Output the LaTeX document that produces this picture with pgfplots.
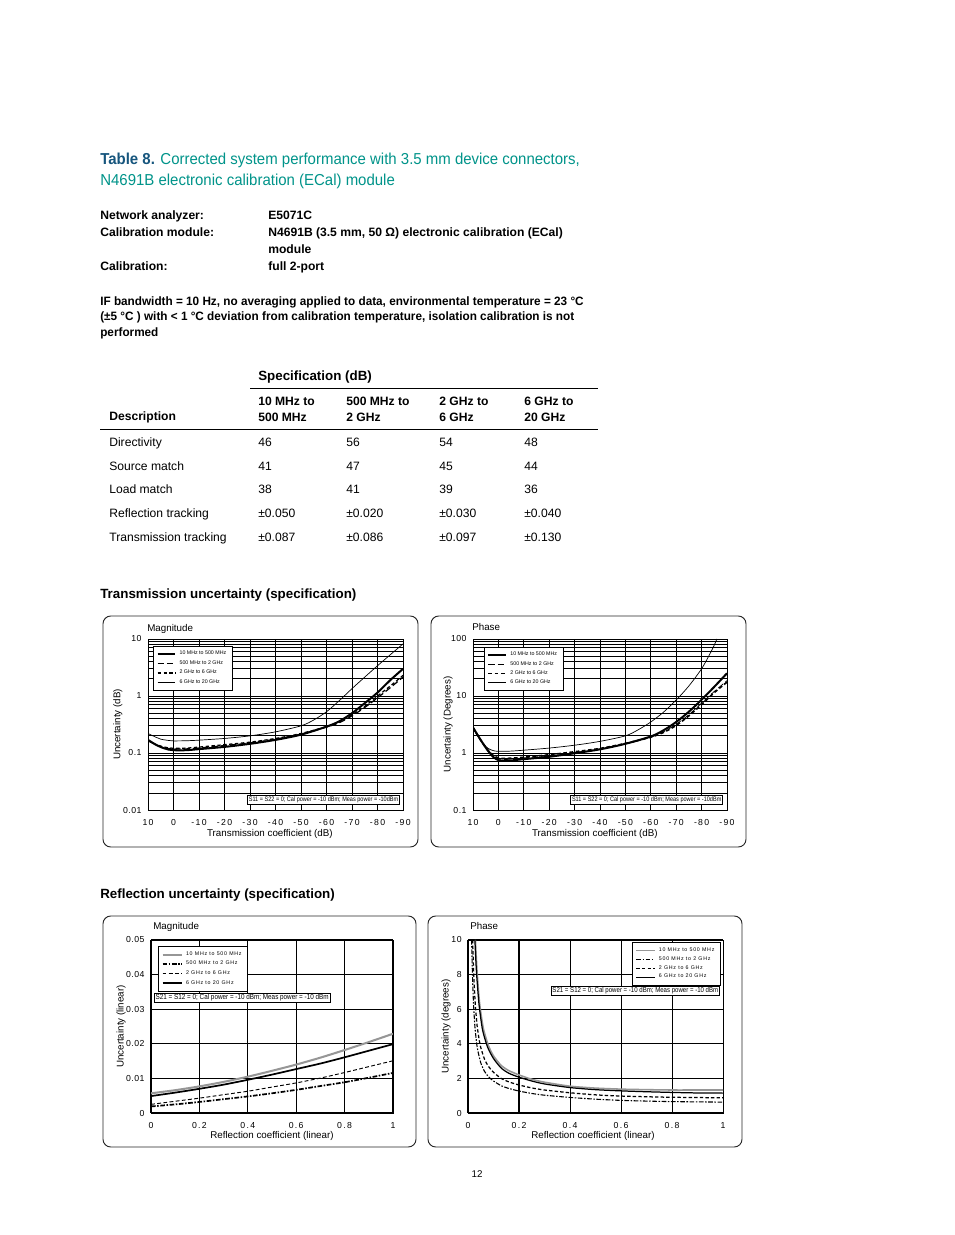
\documentclass[border=0pt]{standalone}
\usepackage{fontspec}
\setmainfont{Liberation Sans}
\newfontfamily\cond[FakeStretch=0.85]{Liberation Sans}
\newfontfamily\body[FakeStretch=0.97]{Liberation Sans}
\newfontfamily\titf[FakeStretch=0.945]{Liberation Sans}
\newfontfamily\tickf[LetterSpace=15]{Liberation Sans}
\newfontfamily\tickyf[LetterSpace=6]{Liberation Sans}
\newfontfamily\legf[LetterSpace=14]{Liberation Sans}
\usepackage{pgfplots}
\pgfplotsset{compat=1.18}
\definecolor{tblue}{RGB}{22,85,125}
\definecolor{tteal}{RGB}{0,148,138}
\definecolor{lgray}{RGB}{150,150,150}
\tikzset{
  annot/.style={draw=black, line width=0.5pt, fill=white, inner sep=0.9pt,
     font=\cond\fontsize{4.2}{5}\selectfont},
  ctitle/.style={anchor=base west, inner sep=0pt, font=\fontsize{6.3}{7}\selectfont},
}
\pgfplotsset{
  pageax/.style={
    scale only axis, anchor=south west,
    axis line style={black,line width=0.6pt},
    grid style={black,line width=0.45pt},
    tick style={draw=none},
    xticklabel style={font=\tickf\fontsize{5.6}{6}\selectfont, yshift=-2.5bp},
    yticklabel style={font=\tickyf\fontsize{5.6}{6}\selectfont, xshift=-0.6bp},
    label style={font=\fontsize{6.3}{7}\selectfont},
    scaled ticks=false,
    legend cell align=left,
    legend style={draw=black, line width=0.5pt, fill=white,
      font=\fontsize{3.4}{4}\selectfont, inner xsep=2pt, inner ysep=1.1pt, row sep=-1.8pt},
    legend image code/.code={\draw[##1] (0pt,0pt) -- (11.5pt,0pt);},
  },
}
\begin{document}
\begin{tikzpicture}[x=0.6414bp,y=-0.6414bp]
\fill[white] (0,0) rectangle (954,1235);
% ---------------- header text
\node[anchor=base west,inner sep=0pt,font=\titf\fontsize{10.2}{12}\selectfont] at (100,164)
  {\textcolor{tblue}{\bfseries Table 8.} \textcolor{tteal}{Corrected system performance with 3.5 mm device connectors,}};
\node[anchor=base west,inner sep=0pt,font=\titf\fontsize{10.2}{12}\selectfont,text=tteal] at (100,185)
  {N4691B electronic calibration (ECal) module};
\begin{scope}[every node/.style={anchor=base west,inner sep=0pt,font=\bfseries\fontsize{7.8}{9}\selectfont}]
\node at (100,219.3) {Network analyzer:};
\node at (268,219.3) {E5071C};
\node at (100,236.7) {Calibration module:};
\node at (268,236.7) {N4691B (3.5 mm, 50 \symbol{"03A9}) electronic calibration (ECal)};
\node at (268,253.3) {module};
\node at (100,270.7) {Calibration:};
\node at (268,270.7) {full 2-port};
\end{scope}
\begin{scope}[every node/.style={anchor=base west,inner sep=0pt,font=\body\bfseries\fontsize{7.8}{9}\selectfont}]
\node at (100,305) {IF bandwidth = 10 Hz, no averaging applied to data, environmental temperature = 23 \textdegree C};
\node at (100,320.5) {(\textpm5 \textdegree C ) with < 1 \textdegree C deviation from calibration temperature, isolation calibration is not};
\node at (100,336.5) {performed};
\end{scope}
% ---------------- table
\node[anchor=base west,inner sep=0pt,font=\bfseries\fontsize{8.6}{10}\selectfont] at (258,380.7) {Specification (dB)};
\draw[line width=0.55pt] (250,388.3) -- (598,388.3);
\begin{scope}[every node/.style={anchor=base west,inner sep=0pt,font=\bfseries\fontsize{7.8}{9}\selectfont}]
\node at (109,420) {Description};
\node at (258,405.5) {10 MHz to}; \node at (258,421.5) {500 MHz};
\node at (346,405.5) {500 MHz to}; \node at (346,421.5) {2 GHz};
\node at (439,405.5) {2 GHz to}; \node at (439,421.5) {6 GHz};
\node at (524,405.5) {6 GHz to}; \node at (524,421.5) {20 GHz};
\end{scope}
\draw[line width=0.8pt] (100,429.3) -- (598,429.3);
\begin{scope}[every node/.style={anchor=base west,inner sep=0pt,font=\fontsize{7.8}{9}\selectfont}]
\node at (109,446) {Directivity};   \node at (258,446) {46}; \node at (346,446) {56}; \node at (439,446) {54}; \node at (524,446) {48};
\node at (109,470) {Source match};  \node at (258,470) {41}; \node at (346,470) {47}; \node at (439,470) {45}; \node at (524,470) {44};
\node at (109,493.5) {Load match};  \node at (258,493.5) {38}; \node at (346,493.5) {41}; \node at (439,493.5) {39}; \node at (524,493.5) {36};
\node at (109,517.5) {Reflection tracking};  \node at (258,517.5) {\textpm0.050}; \node at (346,517.5) {\textpm0.020}; \node at (439,517.5) {\textpm0.030}; \node at (524,517.5) {\textpm0.040};
\node at (109,541.5) {Transmission tracking};  \node at (258,541.5) {\textpm0.087}; \node at (346,541.5) {\textpm0.086}; \node at (439,541.5) {\textpm0.097}; \node at (524,541.5) {\textpm0.130};
\end{scope}
\node[anchor=base west,inner sep=0pt,font=\bfseries\fontsize{8.6}{10}\selectfont] at (100,598) {Transmission uncertainty (specification)};
\node[anchor=base west,inner sep=0pt,font=\bfseries\fontsize{8.6}{10}\selectfont] at (100,898) {Reflection uncertainty (specification)};
\node[inner sep=0pt,font=\fontsize{6.3}{7}\selectfont] at (477,1174) {12};
% ---------------- frames and chart titles
\draw[black!85,line width=0.6pt,rounded corners=5pt] (103,616) rectangle (418,847);
\draw[black!85,line width=0.6pt,rounded corners=5pt] (431,616) rectangle (746,847);
\draw[black!85,line width=0.6pt,rounded corners=5pt] (103,916) rectangle (416,1147);
\draw[black!85,line width=0.6pt,rounded corners=5pt] (428,916) rectangle (742,1147);
\node[ctitle] at (147,631) {Magnitude};
\node[ctitle] at (472,630) {Phase};
\node[ctitle] at (153,929) {Magnitude};
\node[ctitle] at (470,929) {Phase};

% ================= Chart 1: transmission magnitude
\begin{axis}[pageax, at={(94.93bp,-519.53bp)}, width=163.6bp, height=109.7bp,
  xmin=-90, xmax=10, x dir=reverse, ymode=log, ymin=0.01, ymax=10,
  xtick={10,0,-10,-20,-30,-40,-50,-60,-70,-80,-90},
  xticklabels={10,0,-10,-20,-30,-40,-50,-60,-70,-80,-90},
  ytick={0.01,0.1,1,10}, yticklabels={0.01,0.1,1,10},
  grid=both,
  xlabel={Transmission coefficient (dB)}, ylabel={Uncertainty (dB)},
  xlabel style={at={(axis description cs:0.478,-0.14)}, anchor=center},
  ylabel style={at={(axis description cs:-0.118,0.5)}, anchor=center},
  legend style={at={(axis description cs:0.02,0.959)}, anchor=north west},
]
\addplot[black, line width=1.3pt, smooth, tension=0.5] coordinates {
(10,0.17) (7,0.14) (5,0.127) (2,0.115) (0,0.112) (-5,0.112) (-10,0.117) (-20,0.128) (-30,0.145) (-40,0.17) (-50,0.21) (-60,0.29) (-65,0.36) (-70,0.5) (-75,0.75) (-80,1.15) (-85,1.9) (-90,3.0)};
\addlegendentry{10 MHz to 500 MHz}
\addplot[black, line width=0.8pt, dash pattern=on 4pt off 2pt, smooth, tension=0.5] coordinates {
(10,0.165) (7,0.14) (5,0.13) (2,0.12) (0,0.118) (-5,0.118) (-10,0.122) (-20,0.135) (-30,0.15) (-40,0.175) (-50,0.215) (-60,0.285) (-65,0.34) (-70,0.45) (-75,0.63) (-80,0.93) (-85,1.4) (-90,2.15)};
\addlegendentry{500 MHz to 2 GHz}
\addplot[black, line width=0.8pt, dash pattern=on 2.2pt off 1.6pt, smooth, tension=0.5] coordinates {
(10,0.165) (7,0.142) (5,0.132) (2,0.123) (0,0.121) (-5,0.122) (-10,0.127) (-20,0.14) (-30,0.155) (-40,0.18) (-50,0.22) (-60,0.29) (-65,0.35) (-70,0.47) (-75,0.66) (-80,1.0) (-85,1.5) (-90,2.3)};
\addlegendentry{2 GHz to 6 GHz}
\addplot[black, line width=0.45pt, smooth, tension=0.5] coordinates {
(10,0.22) (7,0.19) (5,0.175) (2,0.166) (0,0.163) (-5,0.164) (-10,0.168) (-20,0.18) (-30,0.2) (-40,0.235) (-50,0.3) (-55,0.38) (-60,0.53) (-65,0.83) (-70,1.35) (-75,2.15) (-80,3.4) (-85,5.3) (-90,8.2)};
\addlegendentry{6 GHz to 20 GHz}
\node[annot, anchor=south east] at (rel axis cs:0.988,0.029) {S11 = S22 = 0; Cal power = -10 dBm; Meas power = -10dBm};
\end{axis}

% ================= Chart 2: transmission phase
\begin{axis}[pageax, at={(303.38bp,-519.53bp)}, width=162.9bp, height=109.7bp,
  xmin=-90, xmax=10, x dir=reverse, ymode=log, ymin=0.1, ymax=100,
  xtick={10,0,-10,-20,-30,-40,-50,-60,-70,-80,-90},
  xticklabels={10,0,-10,-20,-30,-40,-50,-60,-70,-80,-90},
  ytick={0.1,1,10,100}, yticklabels={0.1,1,10,100},
  grid=both,
  xlabel={Transmission coefficient (dB)}, ylabel={Uncertainty (Degrees)},
  xlabel style={at={(axis description cs:0.48,-0.14)}, anchor=center},
  ylabel style={at={(axis description cs:-0.098,0.5)}, anchor=center},
  legend style={at={(axis description cs:0.043,0.953)}, anchor=north west, row sep=-2.0pt},
]
\addplot[black, line width=1.3pt, smooth, tension=0.5] coordinates {
(10,2.8) (8,2.0) (6,1.45) (4,1.08) (2,0.85) (0,0.75) (-2,0.73) (-5,0.74) (-10,0.78) (-20,0.86) (-30,0.99) (-40,1.16) (-50,1.45) (-60,1.95) (-65,2.5) (-70,3.5) (-75,5.3) (-80,8.6) (-85,14.5) (-90,25)};
\addlegendentry{10 MHz to 500 MHz}
\addplot[black, line width=0.5pt, dash pattern=on 4pt off 2pt, smooth, tension=0.5] coordinates {
(10,2.8) (8,2.0) (6,1.45) (4,1.1) (2,0.88) (0,0.79) (-2,0.77) (-5,0.78) (-10,0.82) (-20,0.9) (-30,1.02) (-40,1.18) (-50,1.45) (-60,1.9) (-65,2.35) (-70,3.2) (-75,4.7) (-80,7.5) (-85,12) (-90,18.5)};
\addlegendentry{500 MHz to 2 GHz}
\addplot[black, line width=1.1pt, dash pattern=on 2.4pt off 1.6pt, smooth, tension=0.5] coordinates {
(10,2.8) (8,2.0) (6,1.45) (4,1.1) (2,0.9) (0,0.82) (-2,0.8) (-5,0.81) (-10,0.84) (-20,0.93) (-30,1.05) (-40,1.2) (-50,1.47) (-60,1.9) (-65,2.3) (-70,3.05) (-75,4.5) (-80,7.1) (-85,11.5) (-90,17.5)};
\addlegendentry{2 GHz to 6 GHz}
\addplot[black, line width=0.45pt, smooth, tension=0.5] coordinates {
(10,2.8) (8,1.95) (6,1.45) (4,1.2) (2,1.1) (0,1.07) (-5,1.08) (-10,1.12) (-20,1.22) (-30,1.37) (-40,1.6) (-50,2.0) (-55,2.55) (-60,3.5) (-65,5.2) (-70,8.5) (-75,15) (-80,30) (-83,52) (-85,78) (-86,100)};
\addlegendentry{6 GHz to 20 GHz}
\node[annot, anchor=south east] at (rel axis cs:0.985,0.029) {S11 = S22 = 0; Cal power = -10 dBm; Meas power = -10dBm};
\end{axis}

% ================= Chart 3: reflection magnitude
\begin{axis}[pageax, at={(96.85bp,-713.88bp)}, width=155.2bp, height=111.0bp,
  xmin=0, xmax=1, ymin=0, ymax=0.05,
  xtick={0,0.2,0.4,0.6,0.8,1}, xticklabels={0,0.2,0.4,0.6,0.8,1},
  ytick={0,0.01,0.02,0.03,0.04,0.05}, yticklabels={0,0.01,0.02,0.03,0.04,0.05},
  grid=major, grid style={black,line width=0.7pt},
  xlabel={Reflection coefficient (linear)}, ylabel={Uncertainty (linear)},
  xlabel style={at={(axis description cs:0.5,-0.133)}, anchor=center},
  ylabel style={at={(axis description cs:-0.124,0.5)}, anchor=center},
  legend style={at={(axis description cs:0.029,0.965)}, anchor=north west, row sep=-1.7pt, inner ysep=1.3pt, font=\legf\fontsize{3.4}{4}\selectfont},
  legend image code/.code={\draw[#1] (0pt,0pt) -- (12.5pt,0pt);},
]
\addplot[lgray, line width=1.3pt, smooth] coordinates {
(0,0.0057) (0.1,0.0066) (0.2,0.0077) (0.3,0.009) (0.4,0.0105) (0.5,0.0122) (0.6,0.014) (0.7,0.016) (0.8,0.0182) (0.9,0.0205) (1,0.0229)};
\addlegendentry{10 MHz to 500 MHz}
\addplot[black, line width=1.1pt, dash pattern=on 3pt off 1pt on 1pt off 1pt, smooth] coordinates {
(0,0.0019) (0.1,0.0025) (0.2,0.0032) (0.3,0.004) (0.4,0.0048) (0.5,0.0057) (0.6,0.0067) (0.7,0.0078) (0.8,0.0089) (0.9,0.0102) (1,0.0116)};
\addlegendentry{500 MHz to 2 GHz}
\addplot[black, line width=0.6pt, dash pattern=on 2.5pt off 1.5pt, smooth] coordinates {
(0,0.0025) (0.1,0.0034) (0.2,0.0043) (0.3,0.0053) (0.4,0.0063) (0.5,0.0075) (0.6,0.0087) (0.7,0.0101) (0.8,0.0117) (0.9,0.0134) (1,0.0151)};
\addlegendentry{2 GHz to 6 GHz}
\addplot[black, line width=1.1pt, smooth] coordinates {
(0,0.0049) (0.1,0.0059) (0.2,0.007) (0.3,0.0082) (0.4,0.0096) (0.5,0.0111) (0.6,0.0127) (0.7,0.0143) (0.8,0.0161) (0.9,0.018) (1,0.0199)};
\addlegendentry{6 GHz to 20 GHz}
\node[annot, anchor=north west, font=\cond\fontsize{4.8}{5.5}\selectfont] at (rel axis cs:0.012,0.695) {S21 = S12 = 0; Cal power = -10 dBm; Meas power = -10 dBm};
\end{axis}

% ================= Chart 4: reflection phase
\begin{axis}[pageax, at={(300.18bp,-713.88bp)}, width=163.6bp, height=111.0bp,
  xmin=0, xmax=1, ymin=0, ymax=10,
  xtick={0,0.2,0.4,0.6,0.8,1}, xticklabels={0,0.2,0.4,0.6,0.8,1},
  ytick={0,2,4,6,8,10}, yticklabels={0,2,4,6,8,10},
  grid=major, grid style={black,line width=0.7pt},
  xlabel={Reflection coefficient (linear)}, ylabel={Uncertainty (degrees)},
  xlabel style={at={(axis description cs:0.49,-0.133)}, anchor=center},
  ylabel style={at={(axis description cs:-0.086,0.5)}, anchor=center},
  legend style={at={(axis description cs:0.992,0.988)}, anchor=north east, row sep=-2.1pt, inner ysep=1.2pt, font=\legf\fontsize{3.4}{4}\selectfont},
  legend image code/.code={\draw[#1] (0pt,0pt) -- (12pt,0pt);},
]
\addplot[lgray, line width=1.0pt, smooth, tension=0.4] coordinates {
(0.029,10) (0.035,8.3) (0.045,6.4) (0.06,4.9) (0.08,3.9) (0.1,3.3) (0.13,2.75) (0.16,2.45) (0.2,2.2) (0.25,1.95) (0.3,1.78) (0.4,1.55) (0.5,1.44) (0.6,1.38) (0.7,1.35) (0.8,1.33) (0.9,1.33) (1.0,1.33)};
\addlegendentry{10 MHz to 500 MHz}
\addplot[black, line width=0.7pt, dash pattern=on 3pt off 1pt on 1pt off 1pt, smooth, tension=0.4] coordinates {
(0.014,10) (0.017,8.2) (0.021,6.5) (0.027,5) (0.036,3.8) (0.05,2.9) (0.065,2.4) (0.08,2.1) (0.1,1.85) (0.13,1.58) (0.16,1.42) (0.2,1.27) (0.25,1.13) (0.3,1.03) (0.4,0.9) (0.5,0.8) (0.6,0.73) (0.7,0.69) (0.8,0.66) (1.0,0.63)};
\addlegendentry{500 MHz to 2 GHz}
\addplot[black, line width=0.8pt, dash pattern=on 2.2pt off 1.4pt, smooth, tension=0.4] coordinates {
(0.018,10) (0.022,8.2) (0.028,6.4) (0.036,5) (0.048,3.9) (0.065,3.1) (0.08,2.7) (0.1,2.35) (0.13,2.0) (0.16,1.8) (0.2,1.62) (0.25,1.45) (0.3,1.33) (0.4,1.17) (0.5,1.05) (0.6,0.98) (0.7,0.94) (0.8,0.91) (1.0,0.88)};
\addlegendentry{2 GHz to 6 GHz}
\addplot[black, line width=0.8pt, smooth, tension=0.4] coordinates {
(0.027,10) (0.033,8.2) (0.043,6.3) (0.057,4.8) (0.077,3.8) (0.1,3.15) (0.13,2.6) (0.16,2.3) (0.2,2.07) (0.25,1.85) (0.3,1.68) (0.4,1.47) (0.5,1.35) (0.6,1.28) (0.7,1.23) (0.8,1.19) (0.9,1.16) (1.0,1.15)};
\addlegendentry{6 GHz to 20 GHz}
\node[annot, anchor=north east, font=\cond\fontsize{4.6}{5.5}\selectfont] at (rel axis cs:0.988,0.734) {S21 = S12 = 0; Cal power = -10 dBm; Meas power = -10 dBm};
\end{axis}
\end{tikzpicture}
\end{document}
